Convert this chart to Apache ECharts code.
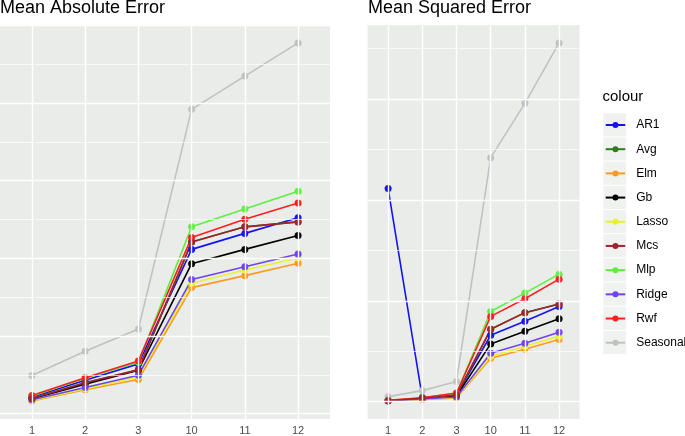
<!DOCTYPE html>
<html><head><meta charset="utf-8">
<script src="https://cdn.jsdelivr.net/npm/echarts@6/dist/echarts.min.js"></script>
<style>html,body{margin:0;padding:0;background:#fff;}#c{width:685px;height:436px;}</style>
</head><body><div id="c"></div>
<script>
// ---- data ----
const horizons = ['1', '2', '3', '10', '11', '12'];
const models = ['AR1', 'Avg', 'Elm', 'Gb', 'Lasso', 'Mcs', 'Mlp', 'Ridge', 'Rwf', 'Seasonal'];

// Mean Absolute Error
const maeAR1      = [0.213, 0.431, 0.641, 2.115, 2.321, 2.523];
const maeAvg      = [0.196, 0.397, 0.564, 2.209, 2.405, 2.469];
const maeElm      = [0.162, 0.308, 0.440, 1.623, 1.777, 1.936];
const maeGb       = [0.192, 0.380, 0.560, 1.931, 2.115, 2.295];
const maeLasso    = [0.171, 0.320, 0.474, 1.679, 1.850, 2.004];
const maeMcs      = [0.196, 0.397, 0.564, 2.209, 2.405, 2.469];
const maeMlp      = [0.226, 0.455, 0.662, 2.405, 2.636, 2.863];
const maeRidge    = [0.179, 0.337, 0.495, 1.727, 1.892, 2.055];
const maeRwf      = [0.235, 0.462, 0.679, 2.269, 2.504, 2.713];
const maeSeasonal = [0.491, 0.803, 1.090, 3.918, 4.346, 4.773];

// Mean Squared Error
const mseAR1      = [2.113, 0.040, 0.068, 0.658, 0.796, 0.944];
const mseAvg      = [0.009, 0.033, 0.063, 0.717, 0.882, 0.967];
const mseElm      = [0.005, 0.020, 0.036, 0.430, 0.519, 0.615];
const mseGb       = [0.008, 0.031, 0.056, 0.572, 0.697, 0.822];
const mseLasso    = [0.006, 0.023, 0.040, 0.450, 0.549, 0.648];
const mseMcs      = [0.009, 0.033, 0.063, 0.717, 0.882, 0.967];
const mseMlp      = [0.011, 0.037, 0.082, 0.894, 1.076, 1.264];
const mseRidge    = [0.007, 0.025, 0.045, 0.480, 0.578, 0.687];
const mseRwf      = [0.012, 0.038, 0.085, 0.845, 1.020, 1.214];
const mseSeasonal = [0.049, 0.109, 0.200, 2.419, 2.958, 3.557];

// gridline break values
const maeMajor = [0, 1, 2, 3, 4, 5];
const maeMinor = [0.5, 1.5, 2.5, 3.5, 4.5];
const mseMajor = [0, 1, 2, 3];
const mseMinor = [0.5, 1.5, 2.5, 3.5];

// ---- styling ----
const colours = {
  AR1: '#1414F0', Avg: '#2E7D1E', Elm: '#FF9A1F', Gb: '#000000', Lasso: '#E8F032',
  Mcs: '#A2222E', Mlp: '#5CF03C', Ridge: '#6F42F5', Rwf: '#FF1E1E', Seasonal: '#BEC3C2'
};
const drawOrder = ['Seasonal', 'AR1', 'Avg', 'Elm', 'Gb', 'Lasso', 'Mlp', 'Ridge', 'Rwf', 'Mcs'];
const maeData = {AR1: maeAR1, Avg: maeAvg, Elm: maeElm, Gb: maeGb, Lasso: maeLasso, Mcs: maeMcs, Mlp: maeMlp, Ridge: maeRidge, Rwf: maeRwf, Seasonal: maeSeasonal};
const mseData = {AR1: mseAR1, Avg: mseAvg, Elm: mseElm, Gb: mseGb, Lasso: mseLasso, Mcs: mseMcs, Mlp: mseMlp, Ridge: mseRidge, Rwf: mseRwf, Seasonal: mseSeasonal};

const FONT = '"Liberation Sans", Arial, sans-serif';
const PANEL_BG = '#EAECEA';

function ext(dataObj) {
  let lo = Infinity, hi = -Infinity;
  Object.values(dataObj).forEach(a => a.forEach(v => { lo = Math.min(lo, v); hi = Math.max(hi, v); }));
  const e = (hi - lo) * 0.05;
  return [lo - e, hi + e];
}
const maeExt = ext(maeData), mseExt = ext(mseData);

function xAxisFor(gi) {
  const idx = horizons.map((h, i) => i);
  return {
    type: 'value', gridIndex: gi, min: -0.6, max: horizons.length - 0.4,
    axisLine: {show: false},
    splitLine: {show: false},
    axisTick: {show: true, length: 3, customValues: idx, lineStyle: {color: '#333', width: 1}},
    axisLabel: {show: true, customValues: idx, margin: 6, color: '#4D4D4D', fontSize: 11, fontFamily: FONT,
      formatter: v => horizons[Math.round(v)]}
  };
}
function yAxisFor(gi, e) {
  return {type: 'value', gridIndex: gi, min: e[0], max: e[1], show: true,
    axisLine: {show: false}, axisTick: {show: false}, axisLabel: {show: false}, splitLine: {show: false}};
}
function gridSeries(gi, major, minor) {
  const lines = [];
  minor.forEach(v => lines.push({yAxis: v, lineStyle: {color: '#FFFFFF', width: 0.7, type: 'solid'}}));
  major.forEach(v => lines.push({yAxis: v, lineStyle: {color: '#FFFFFF', width: 1.4, type: 'solid'}}));
  horizons.forEach((h, i) => lines.push({xAxis: i, lineStyle: {color: '#FFFFFF', width: 1.4, type: 'solid'}}));
  return {
    type: 'line', xAxisIndex: gi, yAxisIndex: gi, data: [], z: 1, silent: true,
    markLine: {silent: true, symbol: ['none', 'none'], label: {show: false}, animation: false,
      emphasis: {disabled: true}, data: lines}
  };
}
const series = [gridSeries(0, maeMajor, maeMinor), gridSeries(1, mseMajor, mseMinor)];
[[0, maeData], [1, mseData]].forEach(([gi, d]) => {
  drawOrder.forEach(name => {
    series.push({
      name: name, type: 'line', xAxisIndex: gi, yAxisIndex: gi, z: 3,
      data: d[name].map((v, i) => [i, v]),
      symbol: 'circle', symbolSize: 7, showSymbol: true,
      lineStyle: {color: colours[name], width: 1.6},
      itemStyle: {color: colours[name], borderColor: colours[name], borderWidth: 0, opacity: 1},
      emphasis: {disabled: true}, animation: false
    });
  });
});

// legend key backgrounds
const keyGraphics = models.map((m, i) => ({
  type: 'rect', left: 603.3, top: 113.2 + i * 24.19,
  shape: {width: 22.8, height: 23.2}, style: {fill: '#F0F2F0'}, z: -1, silent: true
}));

const option = {
  animation: false,
  backgroundColor: '#FFFFFF',
  title: [
    {text: 'Mean Absolute Error', left: 0, top: -1, textStyle: {fontFamily: FONT, fontSize: 18, fontWeight: 'normal', color: '#000'}, padding: 0},
    {text: 'Mean Squared Error', left: 368, top: -1, textStyle: {fontFamily: FONT, fontSize: 18, fontWeight: 'normal', color: '#000'}, padding: 0},
    {text: 'colour', left: 602.5, top: 89, textStyle: {fontFamily: FONT, fontSize: 15, fontWeight: 'normal', color: '#000'}, padding: 0}
  ],
  grid: [
    {left: 0, top: 25, width: 330, height: 394.3, show: true, backgroundColor: PANEL_BG, borderWidth: 0},
    {left: 367.6, top: 25, width: 212, height: 394.3, show: true, backgroundColor: PANEL_BG, borderWidth: 0}
  ],
  xAxis: [xAxisFor(0), xAxisFor(1)],
  yAxis: [yAxisFor(0, maeExt), yAxisFor(1, mseExt)],
  legend: {
    data: models, orient: 'vertical', left: 604.7, top: 118, padding: 0,
    itemWidth: 19.5, itemHeight: 7.5, itemGap: 10.19, selectedMode: false,
    itemStyle: {borderWidth: 0},
    textStyle: {fontFamily: FONT, fontSize: 12, color: '#000', lineHeight: 14, padding: [0, 0, 0, 6]}
  },
  graphic: keyGraphics,
  series: series
};
const chart = echarts.init(document.getElementById('c'), null, {renderer: 'canvas'});
chart.setOption(option);
</script></body></html>
